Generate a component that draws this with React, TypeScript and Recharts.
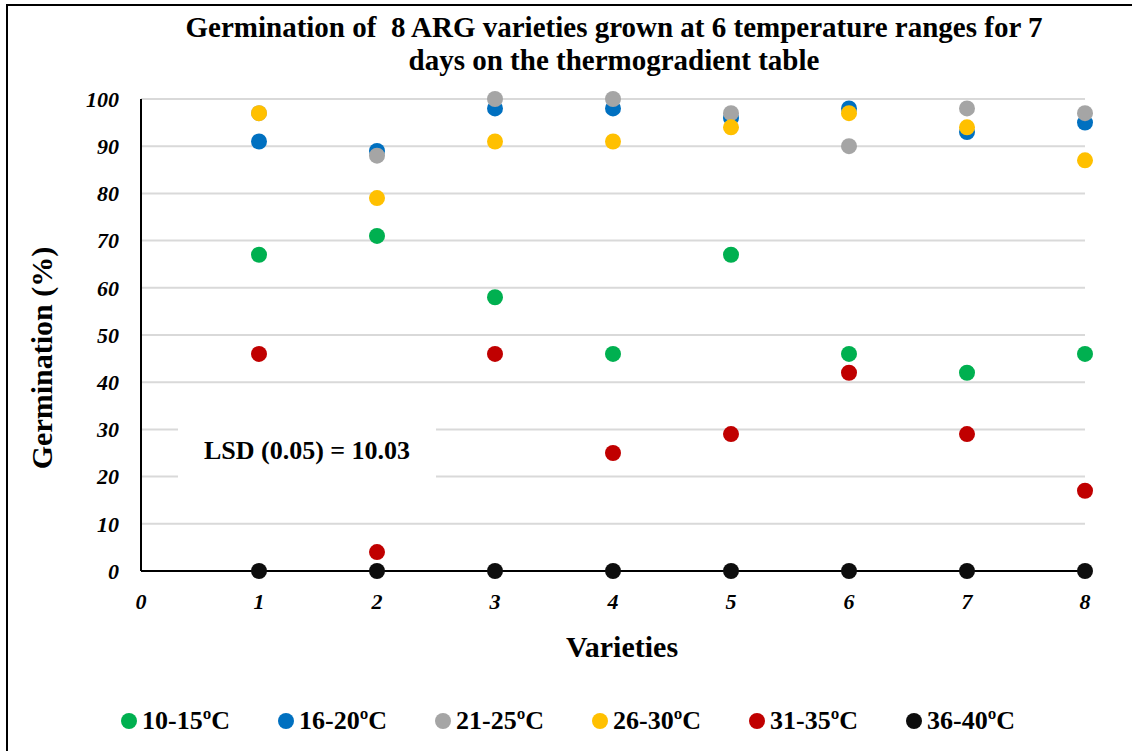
import {
  ScatterChart,
  Scatter,
  XAxis,
  YAxis,
  CartesianGrid,
  Legend,
} from "recharts";

const varieties = [1, 2, 3, 4, 5, 6, 7, 8];
const xTicks = [0, 1, 2, 3, 4, 5, 6, 7, 8];
const yTicks = [0, 10, 20, 30, 40, 50, 60, 70, 80, 90, 100];

const g10_15 = [67, 71, 58, 46, 67, 46, 42, 46];
const g16_20 = [91, 89, 98, 98, 96, 98, 93, 95];
const g21_25 = [97, 88, 100, 100, 97, 90, 98, 97];
const g26_30 = [97, 79, 91, 91, 94, 97, 94, 87];
const g31_35 = [46, 4, 46, 25, 29, 42, 29, 17];
const g36_40 = [0, 0, 0, 0, 0, 0, 0, 0];

const seriesNames = ["10-15ºC", "16-20ºC", "21-25ºC", "26-30ºC", "31-35ºC", "36-40ºC"];
const seriesValues = [g10_15, g16_20, g21_25, g26_30, g31_35, g36_40];
const seriesColors = ["#00B050", "#0070C0", "#A5A5A5", "#FFC000", "#C00000", "#0D0D0D"];

const series = seriesNames.map((name, i) => ({
  name,
  color: seriesColors[i],
  data: varieties.map((v, j) => ({ x: v, y: seriesValues[i][j] })),
}));

const FONT = "'Liberation Serif', 'Times New Roman', serif";

const tickStyle = {
  fontFamily: FONT,
  fontWeight: "bold",
  fontStyle: "italic",
  fontSize: 22,
  fill: "#000",
};

// round marker, r=8 like the original
const dot = (color: string) => (props: any) =>
  <circle cx={props.cx} cy={props.cy} r={8} fill={color} />;

function LegendContent() {
  return (
    <div style={{ position: "relative", height: 30, width: 1132 }}>
      {series.map((s, i) => (
        <div
          key={s.name}
          style={{
            position: "absolute",
            left: 121 + i * 157,
            top: 0,
            display: "flex",
            alignItems: "center",
            fontFamily: FONT,
            fontWeight: "bold",
            fontSize: 26,
            color: "#000",
            whiteSpace: "nowrap",
          }}
        >
          <span
            style={{
              display: "inline-block",
              width: 16,
              height: 16,
              borderRadius: 8,
              background: s.color,
              marginRight: 5,
            }}
          />
          {s.name}
        </div>
      ))}
    </div>
  );
}

export default function App() {
  return (
    <div
      style={{
        position: "absolute",
        left: 0,
        top: 0,
        width: 1132,
        height: 751,
        background: "#fff",
        overflow: "hidden",
      }}
    >
      {/* frame */}
      <div
        style={{
          position: "absolute",
          left: 6,
          top: 4,
          width: 1140,
          height: 760,
          borderLeft: "2px solid #000",
          borderTop: "2px solid #000",
        }}
      />
      <div
        style={{
          position: "absolute",
          left: 0,
          top: 11,
          width: 1228,
          textAlign: "center",
          fontFamily: FONT,
          fontWeight: "bold",
          fontSize: 29,
          lineHeight: "33px",
          whiteSpace: "pre",
          color: "#000",
        }}
      >
        {"Germination of  8 ARG varieties grown at 6 temperature ranges for 7\ndays on the thermogradient table"}
      </div>

      <ScatterChart
        width={1132}
        height={751}
        margin={{ top: 99, right: 47, bottom: 150, left: 0 }}
        style={{ position: "absolute", left: 0, top: 0 }}
      >
        <CartesianGrid vertical={false} stroke="#D9D9D9" strokeWidth={2} />
        <XAxis
          type="number"
          dataKey="x"
          domain={[0, 8]}
          ticks={xTicks}
          interval={0}
          height={30}
          tickLine={false}
          tickSize={20}
          axisLine={{ stroke: "#000", strokeWidth: 2 }}
          tick={tickStyle}
        />
        <YAxis
          type="number"
          dataKey="y"
          domain={[0, 100]}
          ticks={yTicks}
          interval={0}
          width={141}
          tickLine={false}
          tickSize={20}
          axisLine={{ stroke: "#000", strokeWidth: 2 }}
          tick={tickStyle}
        />
        <Legend
          layout="horizontal"
          verticalAlign="middle"
          align="center"
          wrapperStyle={{ left: 0, top: 706, width: 1132 }}
          content={LegendContent}
        />
        {series.map((s) => (
          <Scatter
            key={s.name}
            name={s.name}
            data={s.data}
            fill={s.color}
            shape={dot(s.color)}
            isAnimationActive={false}
          />
        ))}
      </ScatterChart>

      {/* LSD annotation box */}
      <div
        style={{
          position: "absolute",
          left: 178,
          top: 402,
          width: 258,
          height: 98,
          background: "#fff",
          display: "flex",
          alignItems: "center",
          justifyContent: "center",
          fontFamily: FONT,
          fontWeight: "bold",
          fontSize: 26,
          color: "#000",
          whiteSpace: "nowrap",
        }}
      >
        LSD (0.05) = 10.03
      </div>

      <div
        style={{
          position: "absolute",
          left: 42 - 150,
          top: 358 - 18,
          width: 300,
          height: 36,
          lineHeight: "36px",
          textAlign: "center",
          transform: "rotate(-90deg)",
          fontFamily: FONT,
          fontWeight: "bold",
          fontSize: 30,
          color: "#000",
        }}
      >
        Germination (%)
      </div>
      <div
        style={{
          position: "absolute",
          left: 472,
          top: 630,
          width: 300,
          textAlign: "center",
          fontFamily: FONT,
          fontWeight: "bold",
          fontSize: 30,
          color: "#000",
        }}
      >
        Varieties
      </div>
    </div>
  );
}
